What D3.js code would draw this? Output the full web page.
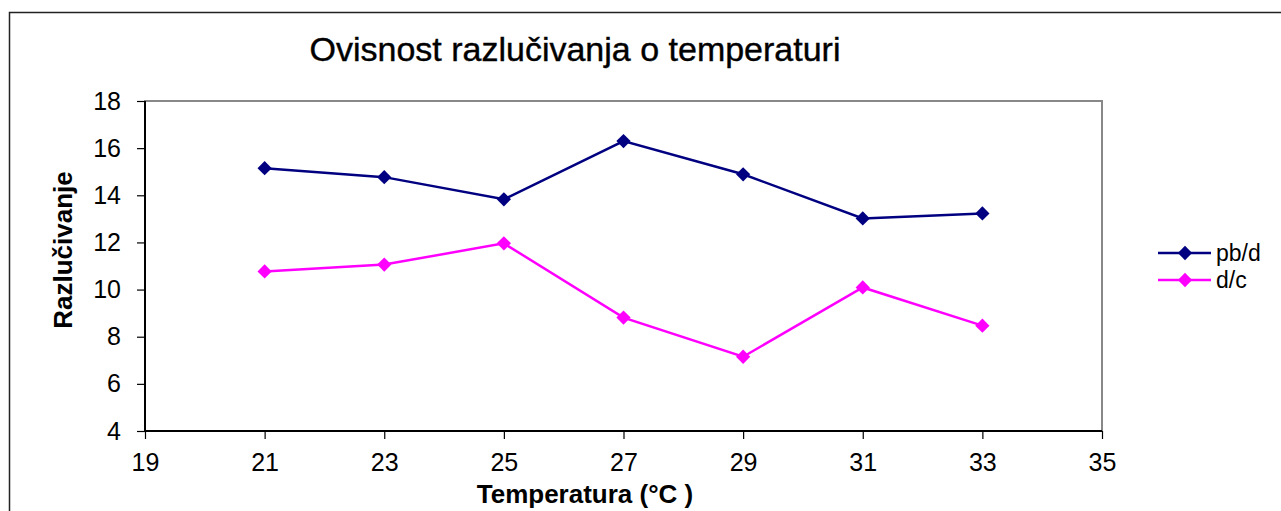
<!DOCTYPE html>
<html>
<head>
<meta charset="utf-8">
<script src="https://cdn.jsdelivr.net/npm/d3@7"></script>
<style>
  body { margin: 0; background: #fff; }
  svg text { font-family: 'Liberation Sans', Arial, sans-serif; }
</style>
</head>
<body>
<div id="chart"></div>
<script>
// data
const temperatures = [21, 23, 25, 27, 29, 31, 33];
const pbd = [15.15, 14.77, 13.83, 16.3, 14.89, 13.02, 13.23];
const dc = [10.77, 11.06, 11.96, 8.81, 7.15, 10.09, 8.47];
const xTicks = [19, 21, 23, 25, 27, 29, 31, 33, 35];
const yTicks = [4, 6, 8, 10, 12, 14, 16, 18];
const seriesNames = ['pb/d', 'd/c'];

const width = 1281, height = 511;
const margin = {top: 101, right: 179, bottom: 80, left: 145};

const svg = d3.select('#chart').append('svg')
  .attr('width', width).attr('height', height);

// outer chart frame
svg.append('rect')
  .attr('x', 9.5).attr('y', 12.5)
  .attr('width', 1300).attr('height', 600)
  .attr('fill', 'none').attr('stroke', '#222').attr('stroke-width', 1.5);

const x = d3.scaleLinear().domain([19, 35]).range([margin.left, width - margin.right]);
const y = d3.scaleLinear().domain([4, 18]).range([height - margin.bottom, margin.top]);

// plot area border (gray top/right)
svg.append('rect')
  .attr('x', x(19)).attr('y', y(18))
  .attr('width', x(35) - x(19)).attr('height', y(4) - y(18))
  .attr('fill', 'none').attr('stroke', '#888').attr('stroke-width', 2);

const xAxis = svg.append('g')
  .attr('transform', `translate(0,${y(4)})`)
  .call(d3.axisBottom(x).tickValues(xTicks).tickSize(8).tickPadding(14).tickFormat(d3.format('d')));
const yAxis = svg.append('g')
  .attr('transform', `translate(${x(19)},0)`)
  .call(d3.axisLeft(y).tickValues(yTicks).tickSize(8).tickPadding(16).tickFormat(d3.format('d')));

[xAxis, yAxis].forEach(a => {
  a.attr('font-size', 25);
  a.select('.domain').attr('stroke', '#000').attr('stroke-width', 2);
  a.selectAll('.tick line').attr('stroke', '#000').attr('stroke-width', 1.2);
  a.selectAll('.tick text').attr('font-size', 25).attr('fill', '#000')
    .style('font-family', "'Liberation Sans', Arial, sans-serif");
});
xAxis.select('.domain').attr('d', `M${x(19)},0H${x(35)}`);
yAxis.select('.domain').attr('d', `M0,${y(4)}V${y(18)}`);

// title
svg.append('text')
  .attr('x', 575).attr('y', 61)
  .attr('text-anchor', 'middle')
  .attr('font-size', 34)
  .attr('stroke', '#000').attr('stroke-width', 0.4)
  .text('Ovisnost razlučivanja o temperaturi');

// axis titles
svg.append('text')
  .attr('x', 585).attr('y', 503)
  .attr('text-anchor', 'middle')
  .attr('font-size', 26).attr('font-weight', 'bold')
  .text('Temperatura (°C )');

svg.append('text')
  .attr('transform', 'translate(72,250) rotate(-90)')
  .attr('text-anchor', 'middle')
  .attr('font-size', 26).attr('font-weight', 'bold')
  .text('Razlučivanje');

const colors = ['#000080', '#ff00ff'];
const series = [pbd, dc];

const line = d3.line()
  .x((d, i) => x(temperatures[i]))
  .y(d => y(d));

const diamond = d3.symbol().type(d3.symbolDiamond2).size(130);

series.forEach((vals, s) => {
  svg.append('path')
    .attr('fill', 'none')
    .attr('stroke', colors[s])
    .attr('stroke-width', 2.5)
    .attr('d', line(vals));
  svg.append('g').selectAll('path')
    .data(vals)
    .join('path')
    .attr('transform', (d, i) => `translate(${x(temperatures[i])},${y(d)})`)
    .attr('d', diamond)
    .attr('fill', colors[s]);
});

// legend
const legend = svg.append('g').attr('transform', 'translate(1158,253)');
seriesNames.forEach((name, i) => {
  const g = legend.append('g').attr('transform', `translate(0,${i * 27})`);
  g.append('line').attr('x1', 0).attr('x2', 53).attr('y1', 0).attr('y2', 0)
    .attr('stroke', colors[i]).attr('stroke-width', 2.5);
  g.append('path').attr('transform', 'translate(27,0)').attr('d', diamond).attr('fill', colors[i]);
  g.append('text').attr('x', 58).attr('y', 8).attr('font-size', 23).text(name);
});
</script>
</body>
</html>
